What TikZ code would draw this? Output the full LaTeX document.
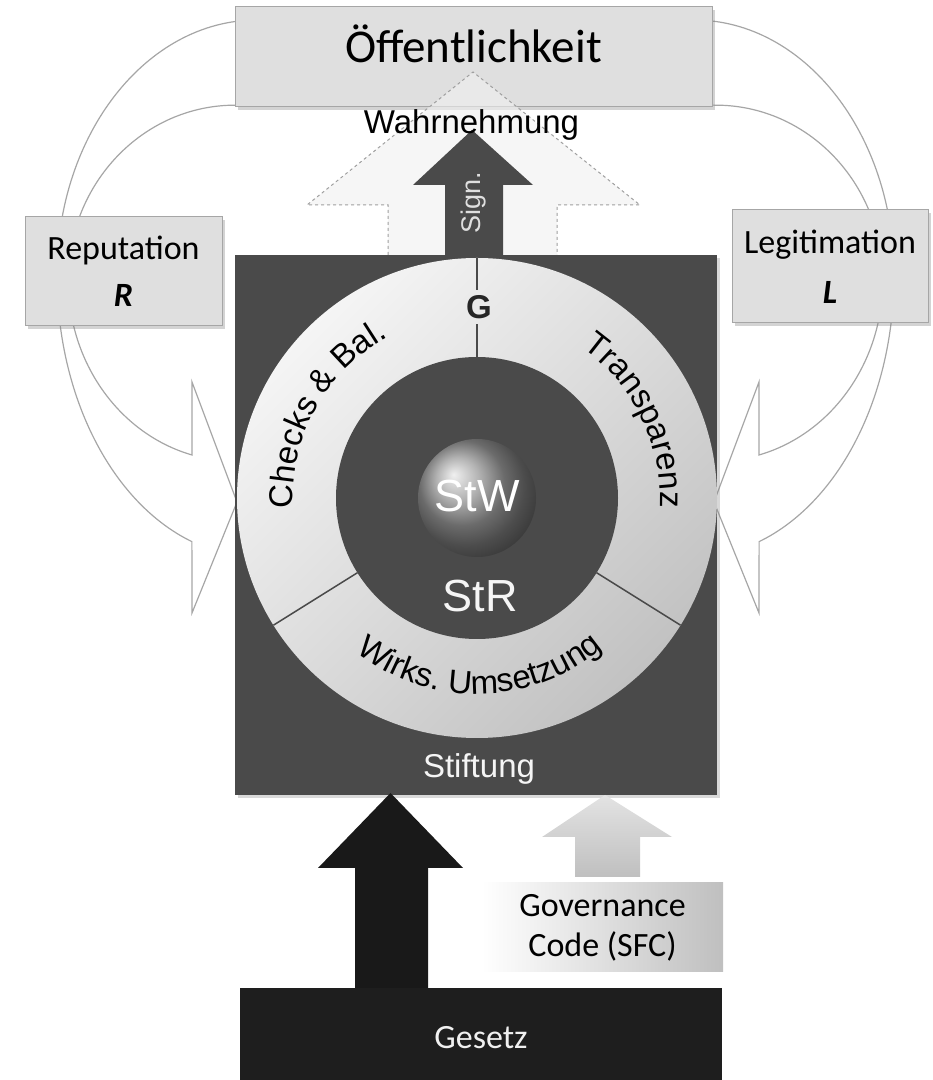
\documentclass[tikz,border=0pt]{standalone}
\usepackage{fontspec}
\setmainfont{Carlito}
\setsansfont{Liberation Sans}
\usetikzlibrary{calc,shadows,decorations.text}

\definecolor{stiftgray}{HTML}{4A4A4A}
\definecolor{gesetzgray}{HTML}{1E1E1E}
\newcommand{\fsz}[1]{\fontsize{#1}{#1}\selectfont}
\newcommand{\ringfont}{\sffamily\fontsize{33}{33}\selectfont}

\tikzset{
  infobox/.style={draw=gray!70, fill=gray!25, line width=1pt, inner sep=0pt,
    drop shadow={opacity=0.35, shadow xshift=3pt, shadow yshift=-3pt}},
  bendarrow/.style={draw=gray!70, fill=white, line width=1.2pt}
}

\begin{document}
\begin{tikzpicture}[x=1pt,y=1pt]
  \useasboundingbox (0,0) rectangle (933,1080);

  % bent arrows, left and mirrored right
  \foreach \s in {1,-1}
  {
    \begin{scope}[shift={(475.5,0)}, xscale=\s]
      \draw[bendarrow] (-218.5,1060)
        arc[start angle=90, end angle=180, x radius=200, y radius=255]
        arc[start angle=180, end angle=251, x radius=200, y radius=282]
        -- (-283.5,467) -- (-238.5,578) -- (-283.5,698) -- (-283.5,625)
        arc[start angle=255, end angle=180, x radius=167, y radius=181]
        arc[start angle=180, end angle=90, x radius=167, y radius=175]
        -- (-218.5,975) -- cycle;
    \end{scope}
  }

  % boxes on top
  \node[infobox, minimum width=477pt, minimum height=100pt] (oeff) at (473.5,1023) {};
  \node[anchor=base, font=\fsz{47}] (oefftext) at (473.5,1017) {Öffentlichkeit};
  \node[infobox, minimum width=197pt, minimum height=109pt, align=center,
    font=\fontsize{34}{47}\selectfont] (rep) at (123.5,808.5)
    {Reputation\\\textbf{\textit{R}}};
  \node[infobox, minimum width=196pt, minimum height=113pt, align=center,
    font=\fontsize{34}{50}\selectfont] (leg) at (830,813.5)
    {Legitimation\\\textbf{\textit{L}}};

  % perception arrow (dashed) and signalling arrow
  \draw[dashed, draw=gray!75, fill=gray!12, fill opacity=0.6, line width=1pt]
    (388,825) -- (388,875) -- (307,875) -- (473,1008) -- (640,875) -- (557,875) -- (557,825);
  \fill[stiftgray] (445,825) -- (445,895) -- (413,895) -- (472,950)
    -- (533,895) -- (503,895) -- (503,825) -- cycle;
  \node[rotate=90, font=\sffamily\fsz{27}, text=gray!25] (sign) at (474,877) {Sign.};
  \node[anchor=base, font=\sffamily\fsz{33}] (wahr) at (471.5,946) {Wahrnehmung};

  % foundation
  \node[fill=stiftgray, minimum width=482pt, minimum height=540pt, inner sep=0pt,
    drop shadow={opacity=0.3, shadow xshift=3pt, shadow yshift=-3pt}] (stift) at (476,555) {};
  \coordinate (c) at (477,582);
  \shade[top color=gray!8, bottom color=gray!48, shading angle=45] (c) circle[radius=240];
  \fill[stiftgray] (c) circle[radius=141];
  \shade[ball color=gray!80] (c) circle[radius=59];
  \foreach \a in {212,328}
    \draw[stiftgray, line width=1.5pt] ($(c)+(\a:141)$) -- ($(c)+(\a:240)$);
  \draw[stiftgray, line width=1.5pt] ($(c)+(90:141)$) -- ($(c)+(90:174)$);
  \draw[stiftgray, line width=1.5pt] ($(c)+(90:208)$) -- ($(c)+(90:240)$);
  \node[font=\sffamily\bfseries\fsz{33}, text=black!85] (G) at (479,773) {G};

  \path[decorate, decoration={text along path, text align=center,
      text={|\ringfont|Checks {\&} Bal.}}]
    ($(c)+(205:184)$) arc[start angle=205, end angle=97, radius=184];
  \path[decorate, decoration={text along path, text align=center,
      text={|\ringfont|Transparenz}}]
    ($(c)+(80:183)$) arc[start angle=80, end angle=-28, radius=183];
  \path[decorate, decoration={text along path, text align=center,
      text={|\ringfont|Wirks. Umsetzung}}]
    ($(c)+(215:196)$) arc[start angle=215, end angle=327, radius=196];

  \node[text=white, font=\sffamily\fsz{45}] (stw) at (477,584) {StW};
  \node[text=gray!8, font=\sffamily\fsz{45}] (str) at (480,483.5) {StR};
  \node[anchor=base, text=gray!8, font=\sffamily\fsz{33}] (stiftung) at (479,302) {Stiftung};

  % law and code
  \node[fill=gesetzgray, minimum width=482pt, minimum height=100pt, inner sep=0pt,
    text=gray!12, font=\fsz{34}] (gesetz) at (481,42) {Gesetz};
  \fill[black!90] (355,92) -- (355,212) -- (318,212) -- (390.5,287)
    -- (463,212) -- (428,212) -- (428,92) -- cycle;
  \node[left color=white, right color=gray!50, minimum width=241pt, minimum height=89pt,
    inner sep=0pt, align=center, font=\fontsize{34}{40}\selectfont] (gov) at (602.5,152.5)
    {Governance\\Code (SFC)};
  \shade[top color=gray!22, bottom color=gray!50] (575,203) -- (575,243) -- (542,243)
    -- (605,285) -- (672,243) -- (640,243) -- (640,203) -- cycle;
\end{tikzpicture}
\end{document}
